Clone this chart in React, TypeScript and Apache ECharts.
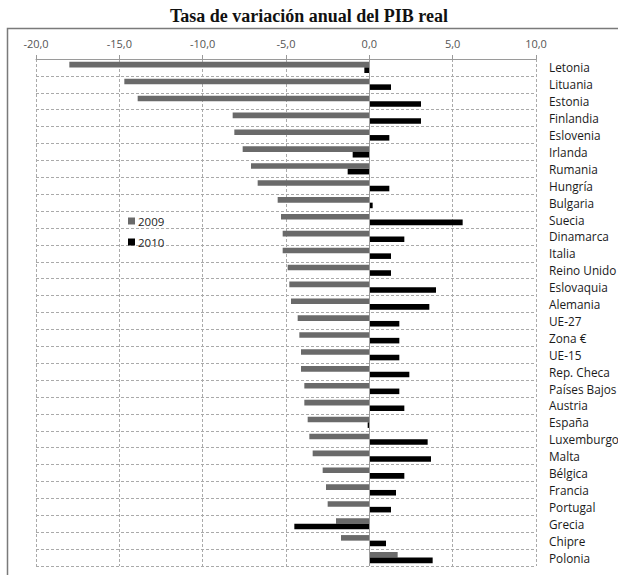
import React, { useEffect, useRef } from "react";
import * as echarts from "echarts";

// Countries, listed top to bottom
const categories: string[] = [
  "Letonia", "Lituania", "Estonia", "Finlandia", "Eslovenia", "Irlanda", "Rumania",
  "Hungría", "Bulgaria", "Suecia", "Dinamarca", "Italia", "Reino Unido", "Eslovaquia",
  "Alemania", "UE-27", "Zona €", "UE-15", "Rep. Checa", "Países Bajos", "Austria",
  "España", "Luxemburgo", "Malta", "Bélgica", "Francia", "Portugal", "Grecia",
  "Chipre", "Polonia",
];

// Real GDP annual growth rate (%)
const values2009: number[] = [
  -18.0, -14.7, -13.9, -8.2, -8.1, -7.6, -7.1, -6.7, -5.5, -5.3, -5.2, -5.2, -4.9, -4.8,
  -4.7, -4.3, -4.2, -4.1, -4.1, -3.9, -3.9, -3.7, -3.6, -3.4, -2.8, -2.6, -2.5, -2.0,
  -1.7, 1.7,
];
const values2010: number[] = [
  -0.3, 1.3, 3.1, 3.1, 1.2, -1.0, -1.3, 1.2, 0.2, 5.6, 2.1, 1.3, 1.3, 4.0,
  3.6, 1.8, 1.8, 1.8, 2.4, 1.8, 2.1, -0.1, 3.5, 3.7, 2.1, 1.6, 1.3, -4.5,
  1.0, 3.8,
];

const seriesNames: string[] = ["2009", "2010"];

const labelFont = "'Open Sans', 'Noto Sans', sans-serif";

export default function App() {
  const ref = useRef<HTMLDivElement>(null);

  useEffect(() => {
    if (!ref.current) return;
    const chart = echarts.init(ref.current, undefined, { renderer: "svg" });
    chart.setOption({
      animation: false,
      backgroundColor: "#ffffff",
      title: {
        text: "Tasa de variación anual del PIB real",
        left: "center",
        top: 2,
        textStyle: {
          fontFamily: "'Liberation Serif', 'Times New Roman', serif",
          fontWeight: "bold",
          fontSize: 18,
          color: "#111",
        },
      },
      graphic: [
        {
          type: "rect",
          shape: { x: 7.5, y: 28.5, width: 640, height: 600 },
          style: { fill: "none", stroke: "#7a7a7a", lineWidth: 1.5 },
          silent: true,
          z: -1,
        },
      ],
      legend: {
        orient: "vertical",
        left: 123,
        top: 210,
        itemWidth: 7,
        itemHeight: 7,
        itemGap: 9,
        icon: "rect",
        data: seriesNames,
        textStyle: { fontFamily: labelFont, fontSize: 11.5, color: "#222", padding: [0, 0, 0, -2] },
      },
      grid: {
        left: 36,
        right: 82,
        top: 59,
        bottom: 9,
        containLabel: false,
        outerBoundsMode: "none",
      },
      xAxis: {
        type: "value",
        position: "top",
        min: -20,
        max: 10,
        interval: 5,
        axisLine: { show: true, lineStyle: { color: "#9a9a9a" } },
        axisTick: { show: true, length: 4, lineStyle: { color: "#9a9a9a" } },
        axisLabel: {
          margin: 10,
          color: "#555",
          fontFamily: labelFont,
          fontSize: 11,
          formatter: (v: number) => v.toFixed(1).replace(".", ","),
        },
        splitLine: { show: true, lineStyle: { color: "#aaa", type: [3, 2], width: 1 } },
      },
      yAxis: {
        type: "category",
        inverse: true,
        position: "right",
        data: categories,
        axisLine: { show: false },
        axisTick: { show: false },
        axisLabel: {
          margin: 13,
          color: "#1a1a1a",
          fontFamily: labelFont,
          fontSize: 11.8,
          interval: 0,
        },
        splitLine: { show: true, interval: 0, lineStyle: { color: "#aaa", type: [3, 2], width: 1 } },
      },
      series: [
        {
          name: seriesNames[0],
          type: "bar",
          data: values2009,
          itemStyle: { color: "#6a6a6a" },
          barGap: "0%",
          barCategoryGap: "34%",
        },
        {
          name: seriesNames[1],
          type: "bar",
          data: values2010,
          itemStyle: { color: "#000000" },
          barGap: "0%",
          barCategoryGap: "34%",
          markLine: {
            silent: true,
            symbol: "none",
            label: { show: false },
            lineStyle: { color: "#9a9a9a", type: "solid", width: 1 },
            data: [{ xAxis: 0 }],
          },
        },
      ],
    });
    return () => chart.dispose();
  }, []);

  return (
    <div
      ref={ref}
      style={{ position: "fixed", left: 0, top: 0, width: 618, height: 575 }}
    />
  );
}
